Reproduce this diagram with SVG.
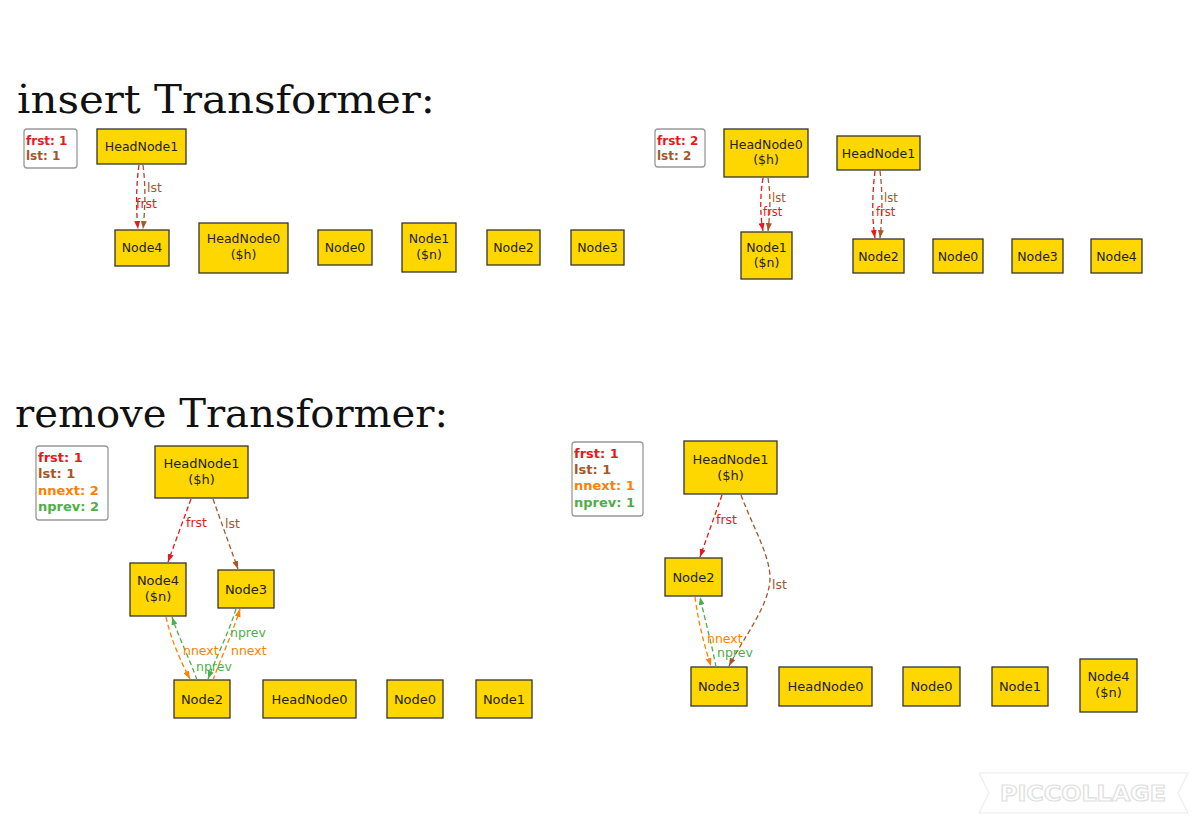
<svg xmlns="http://www.w3.org/2000/svg" width="1200" height="828" viewBox="0 0 1200 828">
<defs>
<style>
.title{font-family:"DejaVu Serif","Liberation Serif",serif;font-size:40px;fill:#111;}
.n rect{fill:#ffd700;stroke:#333;stroke-width:1.3;}
.n text{font-family:"DejaVu Sans","Liberation Sans",sans-serif;fill:#222;text-anchor:middle;}
.s12 text{font-size:12.5px;}
.s13 text{font-size:13px;}
.leg rect{fill:#fff;stroke:#999;stroke-width:1.3;}
.leg text{font-family:"DejaVu Sans","Liberation Sans",sans-serif;font-weight:bold;}
.e{fill:none;stroke-width:1.3;stroke-dasharray:5,3;}
.lbl{font-family:"DejaVu Sans","Liberation Sans",sans-serif;font-size:12.5px;}
.lbs{font-family:"DejaVu Sans","Liberation Sans",sans-serif;font-size:11.5px;}
.red{stroke:#e41a1c;}
.brn{stroke:#a65628;}
.org{stroke:#ff7f00;}
.grn{stroke:#4daf4a;}
.tred{fill:#e41a1c;}
.tbrn{fill:#a65628;}
.torg{fill:#ff7f00;}
.tgrn{fill:#4daf4a;}
</style>
<marker id="aR" viewBox="0 0 8 6" refX="8" refY="3" markerWidth="8" markerHeight="6" markerUnits="userSpaceOnUse" orient="auto"><path d="M0,0L8,3L0,6z" fill="#e41a1c"/></marker>
<marker id="aB" viewBox="0 0 8 6" refX="8" refY="3" markerWidth="8" markerHeight="6" markerUnits="userSpaceOnUse" orient="auto"><path d="M0,0L8,3L0,6z" fill="#a65628"/></marker>
<marker id="aO" viewBox="0 0 8 6" refX="8" refY="3" markerWidth="8" markerHeight="6" markerUnits="userSpaceOnUse" orient="auto"><path d="M0,0L8,3L0,6z" fill="#ff7f00"/></marker>
<marker id="aG" viewBox="0 0 8 6" refX="8" refY="3" markerWidth="8" markerHeight="6" markerUnits="userSpaceOnUse" orient="auto"><path d="M0,0L8,3L0,6z" fill="#4daf4a"/></marker>
</defs>
<rect width="1200" height="828" fill="#fff"/>

<text class="title" x="17" y="113" textLength="418" lengthAdjust="spacingAndGlyphs">insert Transformer:</text>
<text class="title" x="15" y="427" textLength="433" lengthAdjust="spacingAndGlyphs">remove Transformer:</text>

<!-- ===== Top-left: insert, state 1 ===== -->
<g id="legend-tl" class="leg">
<rect x="24" y="129" width="53" height="39" rx="3"/>
<text x="26" y="145" font-size="12" class="tred">frst: 1</text>
<text x="26" y="160" font-size="12" class="tbrn">lst: 1</text>
</g>
<g id="tl-HeadNode1" class="n s12"><rect x="97" y="129" width="89" height="35"/><text x="141.5" y="151">HeadNode1</text></g>
<g id="tl-Node4" class="n s12"><rect x="115" y="230" width="54" height="36"/><text x="142" y="252">Node4</text></g>
<g id="tl-HeadNode0" class="n s12"><rect x="199" y="223" width="89" height="50"/><text x="243.5" y="243">HeadNode0</text><text x="243.5" y="259">($h)</text></g>
<g id="tl-Node0" class="n s12"><rect x="318" y="230" width="54" height="35"/><text x="345" y="252">Node0</text></g>
<g id="tl-Node1" class="n s12"><rect x="402" y="223" width="54" height="49"/><text x="429" y="243">Node1</text><text x="429" y="259">($n)</text></g>
<g id="tl-Node2" class="n s12"><rect x="487" y="230" width="53" height="35"/><text x="513.5" y="252">Node2</text></g>
<g id="tl-Node3" class="n s12"><rect x="571" y="230" width="53" height="35"/><text x="597.5" y="252">Node3</text></g>

<!-- ===== Top-right: insert, state 2 ===== -->
<g id="legend-tr" class="leg">
<rect x="655" y="129" width="50" height="38" rx="3"/>
<text x="657" y="145" font-size="12" class="tred">frst: 2</text>
<text x="657" y="160" font-size="12" class="tbrn">lst: 2</text>
</g>
<g id="tr-HeadNode0" class="n s12"><rect x="724" y="129" width="84" height="48"/><text x="766" y="149">HeadNode0</text><text x="766" y="164">($h)</text></g>
<g id="tr-HeadNode1" class="n s12"><rect x="837" y="136" width="83" height="34"/><text x="878.5" y="157.5">HeadNode1</text></g>
<g id="tr-Node1" class="n s12"><rect x="741" y="232" width="51" height="47"/><text x="766.5" y="252">Node1</text><text x="766.5" y="267">($n)</text></g>
<g id="tr-Node2" class="n s12"><rect x="853" y="239" width="51" height="34"/><text x="878.5" y="260.5">Node2</text></g>
<g id="tr-Node0" class="n s12"><rect x="933" y="239" width="50" height="34"/><text x="958" y="260.5">Node0</text></g>
<g id="tr-Node3" class="n s12"><rect x="1012" y="239" width="51" height="34"/><text x="1037.5" y="260.5">Node3</text></g>
<g id="tr-Node4" class="n s12"><rect x="1091" y="239" width="51" height="34"/><text x="1116.5" y="260.5">Node4</text></g>

<!-- ===== Bottom-left: remove, state 1 ===== -->
<g id="legend-bl" class="leg">
<rect x="36" y="446" width="72" height="74" rx="3"/>
<text x="38" y="462" font-size="13" class="tred">frst: 1</text>
<text x="38" y="478" font-size="13" class="tbrn">lst: 1</text>
<text x="38" y="495" font-size="13" class="torg">nnext: 2</text>
<text x="38" y="511" font-size="13" class="tgrn">nprev: 2</text>
</g>
<g id="bl-HeadNode1" class="n s13"><rect x="155" y="446" width="93" height="52"/><text x="201.5" y="468">HeadNode1</text><text x="201.5" y="484">($h)</text></g>
<g id="bl-Node4" class="n s13"><rect x="130" y="563" width="56" height="53"/><text x="158" y="585">Node4</text><text x="158" y="601">($n)</text></g>
<g id="bl-Node3" class="n s13"><rect x="218" y="570" width="56" height="38"/><text x="246" y="594">Node3</text></g>
<g id="bl-Node2" class="n s13"><rect x="174" y="680" width="56" height="38"/><text x="202" y="704">Node2</text></g>
<g id="bl-HeadNode0" class="n s13"><rect x="263" y="680" width="93" height="38"/><text x="309.5" y="704">HeadNode0</text></g>
<g id="bl-Node0" class="n s13"><rect x="387" y="680" width="56" height="38"/><text x="415" y="704">Node0</text></g>
<g id="bl-Node1" class="n s13"><rect x="476" y="680" width="56" height="38"/><text x="504" y="704">Node1</text></g>

<!-- ===== Bottom-right: remove, state 2 ===== -->
<g id="legend-br" class="leg">
<rect x="572" y="442" width="71" height="74" rx="3"/>
<text x="574" y="458" font-size="13" class="tred">frst: 1</text>
<text x="574" y="474" font-size="13" class="tbrn">lst: 1</text>
<text x="574" y="490" font-size="13" class="torg">nnext: 1</text>
<text x="574" y="507" font-size="13" class="tgrn">nprev: 1</text>
</g>
<g id="br-HeadNode1" class="n s13"><rect x="684" y="441" width="93" height="53"/><text x="730.5" y="464">HeadNode1</text><text x="730.5" y="480">($h)</text></g>
<g id="br-Node2" class="n s13"><rect x="665" y="558" width="57" height="38"/><text x="693.5" y="582">Node2</text></g>
<g id="br-Node3" class="n s13"><rect x="691" y="667" width="56" height="39"/><text x="719" y="691">Node3</text></g>
<g id="br-HeadNode0" class="n s13"><rect x="779" y="667" width="93" height="39"/><text x="825.5" y="691">HeadNode0</text></g>
<g id="br-Node0" class="n s13"><rect x="903" y="667" width="57" height="39"/><text x="931.5" y="691">Node0</text></g>
<g id="br-Node1" class="n s13"><rect x="992" y="667" width="56" height="39"/><text x="1020" y="691">Node1</text></g>
<g id="br-Node4" class="n s13"><rect x="1080" y="659" width="57" height="53"/><text x="1108.5" y="681">Node4</text><text x="1108.5" y="697">($n)</text></g>

<!-- ===== Connectors ===== -->
<g id="connectors">
<!-- top-left -->
<path class="e red" d="M139,165 C136,186 136,210 138,229" marker-end="url(#aR)"/>
<path class="e brn" d="M143,165 C146,188 145,210 143,229" marker-end="url(#aB)"/>
<text class="lbl tbrn" x="147" y="192">lst</text>
<text class="lbl tred" x="136" y="208">frst</text>
<!-- top-right -->
<path class="e red" d="M763,178 C760,196 760,214 763,231" marker-end="url(#aR)"/>
<path class="e brn" d="M768,178 C771,196 770,214 768,231" marker-end="url(#aB)"/>
<text class="lbs tbrn" x="772" y="202">lst</text>
<text class="lbs tred" x="763" y="216">frst</text>
<path class="e red" d="M875,171 C872,195 872,220 875,238" marker-end="url(#aR)"/>
<path class="e brn" d="M880,171 C883,195 882,220 880,238" marker-end="url(#aB)"/>
<text class="lbs tbrn" x="884" y="202">lst</text>
<text class="lbs tred" x="876" y="216">frst</text>
<!-- bottom-left -->
<path class="e red" d="M191,499 L168,562" marker-end="url(#aR)"/>
<text class="lbl tred" x="186" y="527">frst</text>
<path class="e brn" d="M213,499 L238,569" marker-end="url(#aB)"/>
<text class="lbl tbrn" x="225" y="528">lst</text>
<path class="e org" d="M166,617 C171,640 181,662 190,679" marker-end="url(#aO)"/>
<path class="e grn" d="M197,680 C190,660 179,638 172,617" marker-end="url(#aG)"/>
<path class="e grn" d="M236,609 C229,632 215,660 208,679" marker-end="url(#aG)"/>
<path class="e org" d="M213,680 C221,658 233,632 240,609" marker-end="url(#aO)"/>
<text class="lbl tgrn" x="230" y="637">nprev</text>
<text class="lbl torg" x="183" y="655">nnext</text>
<text class="lbl torg" x="231" y="655">nnext</text>
<text class="lbl tgrn" x="196" y="671">nprev</text>
<!-- bottom-right -->
<path class="e red" d="M722,495 L700,557" marker-end="url(#aR)"/>
<text class="lbl tred" x="716" y="524">frst</text>
<path class="e brn" d="M741,495 C752,525 770,555 770,578 C770,605 742,640 729,666" marker-end="url(#aB)"/>
<text class="lbl tbrn" x="772" y="589">lst</text>
<path class="e org" d="M695,597 C698,620 704,645 711,666" marker-end="url(#aO)"/>
<path class="e grn" d="M716,667 C712,645 705,620 700,597" marker-end="url(#aG)"/>
<text class="lbl torg" x="707" y="643">nnext</text>
<text class="lbl tgrn" x="717" y="657">nprev</text>
</g>

<!-- watermark -->
<g id="watermark" opacity="0.9">
<polygon points="979,773 1188,773 1178,793 1188,813 979,813 989,793" fill="none" stroke="#ececec" stroke-width="1.2"/>
<text x="1083" y="801" font-family="DejaVu Sans, sans-serif" font-weight="bold" font-size="22" text-anchor="middle" fill="#fff" stroke="#dcdcdc" stroke-width="1.2" textLength="166" lengthAdjust="spacingAndGlyphs">PICCOLLAGE</text>
</g>
</svg>
